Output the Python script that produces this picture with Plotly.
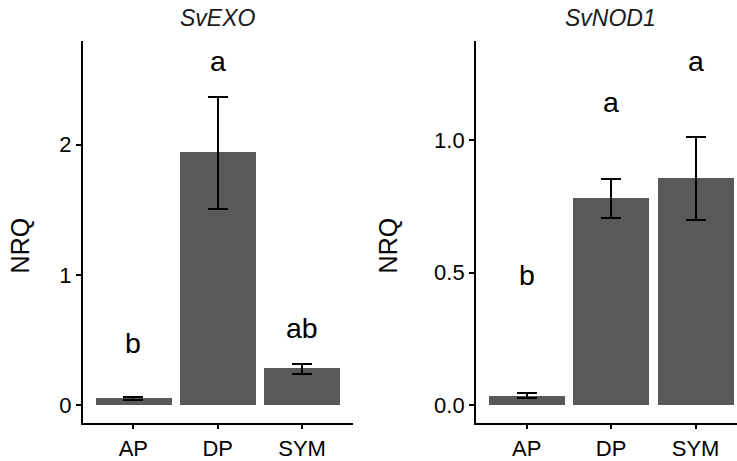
import plotly.graph_objects as go

categories = ["AP", "DP", "SYM"]

# Panel 1: SvEXO
exo_mean = [0.051, 1.939, 0.278]
exo_upper = [0.060, 2.364, 0.316]
exo_lower = [0.042, 1.509, 0.242]
exo_letters = ["b", "a", "ab"]
exo_letter_y = [0.479, 2.64, 0.593]

# Panel 2: SvNOD1
nod_mean = [0.034, 0.778, 0.854]
nod_upper = [0.044, 0.853, 1.012]
nod_lower = [0.025, 0.705, 0.700]
nod_letters = ["b", "a", "a"]
nod_letter_y = [0.491, 1.144, 1.297]

titles = ["SvEXO", "SvNOD1"]
y_title = "NRQ"

FONT = "Liberation Sans, Arial, sans-serif"
BAR = "#595959"
W, H = 737, 461

fig = go.Figure()

panels = [
    (exo_mean, exo_upper, exo_lower, exo_letters, exo_letter_y, "x", "y"),
    (nod_mean, nod_upper, nod_lower, nod_letters, nod_letter_y, "x2", "y2"),
]

xi = [0, 1, 2]
for mean, up, lo, letters, ly, xa, ya in panels:
    fig.add_trace(go.Bar(
        x=xi, y=mean, width=0.9, marker=dict(color=BAR, line=dict(width=0)),
        error_y=dict(type="data", symmetric=False,
                     array=[u - m for u, m in zip(up, mean)],
                     arrayminus=[m - l for m, l in zip(mean, lo)],
                     color="black", thickness=2, width=10),
        xaxis=xa, yaxis=ya, showlegend=False, hoverinfo="skip"))
    for x, t, yv in zip(xi, letters, ly):
        fig.add_annotation(x=x, y=yv, xref=xa, yref=ya, text=t, showarrow=False,
                           font=dict(family=FONT, size=28.5, color="black"),
                           xanchor="center", yanchor="middle")

ydom = [(461 - 425.3) / H, (461 - 41.7) / H]
axis_common = dict(showgrid=False, zeroline=False, showline=True, linecolor="black",
                   linewidth=1.8, ticks="outside", ticklen=5, tickwidth=1.8,
                   tickcolor="black", tickfont=dict(family=FONT, size=22, color="black"))

fig.update_layout(
    width=W, height=H, margin=dict(l=0, r=0, t=0, b=0),
    paper_bgcolor="white", plot_bgcolor="white", bargap=0,
    xaxis=dict(domain=[82.7 / W, 352.7 / W], range=[-0.6, 2.6], tickvals=xi,
               ticktext=categories, anchor="y", **axis_common),
    yaxis=dict(domain=ydom, range=[-0.134, 2.794], tickvals=[0, 1, 2],
               ticktext=["0", "1", "2"], anchor="x", **axis_common),
    xaxis2=dict(domain=[476 / W, 1.0], range=[-0.6, 2.49], tickvals=xi,
                ticktext=categories, anchor="y2", **axis_common),
    yaxis2=dict(domain=ydom, range=[-0.066, 1.372], tickvals=[0, 0.5, 1.0],
                ticktext=["0.0", "0.5", "1.0"], anchor="x2", **axis_common),
)

for cx, t in zip([218 / W, 610 / W], titles):
    fig.add_annotation(x=cx, y=(461 - 18) / H, xref="paper", yref="paper", text=t,
                       showarrow=False, xanchor="center", yanchor="middle",
                       font=dict(family=FONT, size=23, color="#1a1a1a", style="italic"))

for cx in [20 / W, 388 / W]:
    fig.add_annotation(x=cx, y=(461 - 247) / H, xref="paper", yref="paper", text=y_title,
                       showarrow=False, xanchor="center", yanchor="middle", textangle=-90,
                       font=dict(family=FONT, size=25, color="black"))

fig.write_html("out.html", config={"displayModeBar": False},
               post_script="document.body.style.margin='0';document.body.style.overflow='hidden';")
